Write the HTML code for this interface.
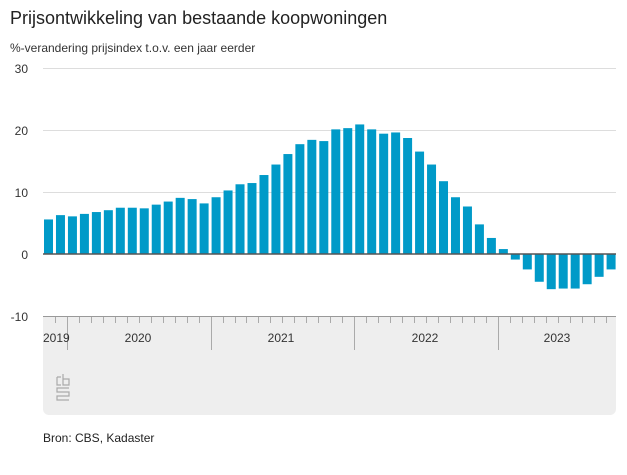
<!DOCTYPE html>
<html><head><meta charset="utf-8"><style>
body{margin:0;background:#fff;width:627px;height:470px;overflow:hidden;font-family:"Liberation Sans",sans-serif;}
</style></head><body>
<svg width="627" height="470" xmlns="http://www.w3.org/2000/svg" font-family="Liberation Sans, sans-serif">
<text x="10" y="24" font-size="18" fill="#222">Prijsontwikkeling van bestaande koopwoningen</text>
<text x="10" y="52" font-size="12" fill="#333">%-verandering prijsindex t.o.v. een jaar eerder</text>
<g font-size="12" fill="#333" text-anchor="end">
<text x="28" y="73">30</text><text x="28" y="135">20</text><text x="28" y="197">10</text><text x="28" y="259">0</text><text x="28" y="321">-10</text>
</g>
<g stroke="#ddd" stroke-width="1">
<line x1="43" x2="616" y1="68.5" y2="68.5"/><line x1="43" x2="616" y1="130.5" y2="130.5"/><line x1="43" x2="616" y1="192.5" y2="192.5"/>
</g>
<rect x="43" y="316" width="573" height="99" rx="6" fill="#eeeeee"/>
<rect x="43" y="316" width="573" height="10" fill="#eeeeee"/>
<line x1="43" x2="616" y1="316.5" y2="316.5" stroke="#999"/>
<g id="bars" fill="#009ac8"></g>
<line x1="43" x2="616" y1="254" y2="254" stroke="#555" stroke-width="1.5"/>
<g id="ticks" stroke="#aaa"></g>
<g font-size="12" fill="#333">
<text x="43" y="342">2019</text>
<text x="138" y="342" text-anchor="middle">2020</text>
<text x="281" y="342" text-anchor="middle">2021</text>
<text x="425" y="342" text-anchor="middle">2022</text>
<text x="557" y="342" text-anchor="middle">2023</text>
</g>
<g fill="none" stroke="#aaa" stroke-width="1.2">
<path d="M57 377h4 M57 377v8h4 M63 374v11h6v-6h-6"/>
<path d="M69 388h-12v4h12v4h-12v4h12"/>
</g>
<text x="43" y="442" font-size="12" fill="#222">Bron: CBS, Kadaster</text>
</svg>
<script>
var v=[5.6,6.3,6.1,6.5,6.8,7.1,7.5,7.5,7.4,8.0,8.5,9.1,8.9,8.2,9.2,10.3,11.3,11.5,12.8,14.5,16.2,17.8,18.5,18.3,20.2,20.4,21.0,20.2,19.5,19.7,18.8,16.6,14.5,11.8,9.2,7.7,4.8,2.6,0.8,-0.9,-2.5,-4.5,-5.7,-5.6,-5.6,-4.9,-3.7,-2.5];
var ns="http://www.w3.org/2000/svg",g=document.getElementById("bars"),t=document.getElementById("ticks");
var s=6.17,z=254,step=11.97;
v.forEach(function(d,i){var r=document.createElementNS(ns,"rect");var x=43+step*i;
r.setAttribute("x",x+1);r.setAttribute("width",9);
if(d>=0){r.setAttribute("y",z-d*s);r.setAttribute("height",d*s);}else{r.setAttribute("y",z);r.setAttribute("height",-d*s);}
g.appendChild(r);});
for(var i=1;i<48;i++){var x=Math.round(43+step*i)+0.5;var L=document.createElementNS(ns,"line");
var yr=(i-2)%12==0;L.setAttribute("x1",x);L.setAttribute("x2",x);L.setAttribute("y1",317);L.setAttribute("y2",yr?350:323);t.appendChild(L);}
</script>
</body></html>
